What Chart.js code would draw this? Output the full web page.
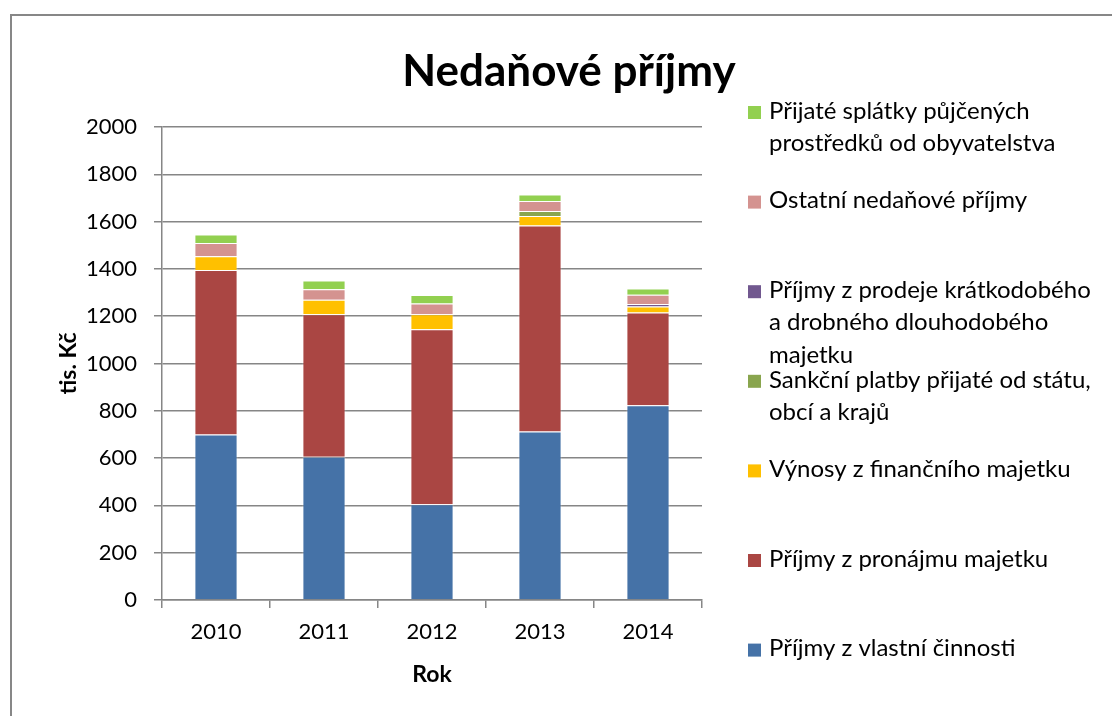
<!DOCTYPE html>
<html>
<head>
<meta charset="utf-8">
<script src="https://cdn.jsdelivr.net/npm/chart.js@4.4.1/dist/chart.umd.min.js"></script>
<style>
    html, body { margin: 0; padding: 0; background: #fff; }
    #wrap { position: relative; width: 1112px; height: 716px; }
    #frame { position: absolute; left: 10px; top: 14px; right: 0; bottom: 0;
             border-left: 2px solid #878787; border-top: 2px solid #878787; }
    #myChart { position: absolute; left: 0; top: 0; }
</style>
</head>
<body>
<div id="wrap">
    <div id="frame"></div>
    <canvas id="myChart" width="1112" height="716"></canvas>
</div>
<script>
// roky a hodnoty v tis. Kč
const roky = ['2010', '2011', '2012', '2013', '2014'];

const vlastniCinnost = [700, 606, 405, 713, 823];
const pronajemMajetku = [695, 602, 740, 870, 393];
const financniMajetek = [59, 62, 63, 41, 25];
const sankcniPlatby = [0, 0, 0, 21, 0];
const prodejMajetku = [0, 0, 0, 0, 11];
const ostatniPrijmy = [56, 44, 46, 42, 39];
const splatkyPujcek = [35, 37, 36, 28, 26];

// popisky legendy (po radcich jako v originale)
const nazvy = [
    ['Příjmy z vlastní činnosti'],
    ['Příjmy z pronájmu majetku'],
    ['Výnosy z finančního majetku'],
    ['Sankční platby přijaté od státu,', 'obcí a krajů'],
    ['Příjmy z prodeje krátkodobého', 'a drobného dlouhodobého', 'majetku'],
    ['Ostatní nedaňové příjmy'],
    ['Přijaté splátky půjčených', 'prostředků od obyvatelstva']
];
const barvy = ['#4572A7', '#AA4643', '#FFC000', '#89A54E', '#71588F', '#D49390', '#92D050'];
const rady = [vlastniCinnost, pronajemMajetku, financniMajetek, sankcniPlatby, prodejMajetku, ostatniPrijmy, splatkyPujcek];

const yTicks = { min: 0, max: 2000, step: 200 };
const nadpis = 'Nedaňové příjmy';
const font = 'Lato, "Open Sans", sans-serif';

// nadpis a legenda vpravo (vice radku na polozku)
const nadpisALegenda = {
    id: 'nadpisALegenda',
    afterDraw(chart) {
        const ctx = chart.ctx;
        ctx.save();
        ctx.fillStyle = '#000';
        ctx.font = 'bold 44px ' + font;
        ctx.textAlign = 'center';
        ctx.textBaseline = 'alphabetic';
        ctx.fillText(nadpis, 569, 86);

        ctx.font = '24px ' + font;
        ctx.textAlign = 'left';
        ctx.textBaseline = 'middle';
        const items = chart.data.datasets.map((ds, i) => i).reverse();
        items.forEach((dsIndex, k) => {
            const y0 = 111 + k * 89.6;
            ctx.fillStyle = chart.data.datasets[dsIndex].backgroundColor;
            ctx.fillRect(748, y0 - 5, 13, 13);
            ctx.fillStyle = '#000';
            nazvy[dsIndex].forEach((line, j) => {
                ctx.fillText(line, 769, y0 + j * 32.5);
            });
        });
        ctx.restore();
    }
};

const ctx = document.getElementById('myChart').getContext('2d');
const myChart = new Chart(ctx, {
    type: 'bar',
    data: {
        labels: roky,
        datasets: rady.map((data, i) => ({
            label: nazvy[i].join(' '),
            data: data,
            backgroundColor: barvy[i],
            borderColor: 'rgba(255,255,255,0.35)',
            borderWidth: 1,
            categoryPercentage: 1,
            barPercentage: 0.4
        }))
    },
    options: {
        responsive: false,
        animation: false,
        layout: { padding: { top: 127, right: 410, left: 0, bottom: 0 } },
        plugins: {
            legend: { display: false },
            title: { display: false },
            tooltip: { enabled: false }
        },
        scales: {
            x: {
                stacked: true,
                afterFit: function (scale) { scale.height = 116; },
                grid: { display: true, drawOnChartArea: false, offset: true, tickLength: 8, color: '#868686', lineWidth: 1.5 },
                border: { color: '#868686', width: 1.5 },
                ticks: { color: '#000', font: { family: font, size: 22 }, padding: 11 },
                title: { display: true, text: 'Rok', color: '#000', font: { family: font, size: 23, weight: 'bold' }, padding: { top: 0, bottom: 28 } }
            },
            y: {
                stacked: true,
                min: yTicks.min,
                max: yTicks.max,
                afterFit: function (scale) { scale.width = 162; },
                grid: { color: '#868686', lineWidth: 1.5, tickLength: 8 },
                border: { color: '#868686', width: 1.5 },
                ticks: {
                    stepSize: yTicks.step, color: '#000', font: { family: font, size: 22 }, padding: 17,
                    callback: function (value) { return String(value); }
                },
                title: { display: true, text: 'tis. Kč', color: '#000', font: { family: font, size: 23, weight: 'bold' }, padding: { top: 55, bottom: 0 } }
            }
        }
    },
    plugins: [nadpisALegenda]
});
</script>
</body>
</html>
